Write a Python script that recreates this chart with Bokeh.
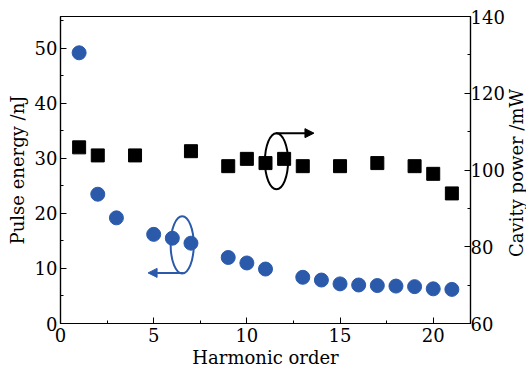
from bokeh.plotting import figure
from bokeh.models import Range1d, LinearAxis, Arrow, NormalHead, FixedTicker, Div
from bokeh.layouts import row
from bokeh.embed import file_html
from bokeh.resources import INLINE

# Pulse energy (left axis, nJ)
harm_e = [1, 2, 3, 5, 6, 7, 9, 10, 11, 13, 14, 15, 16, 17, 18, 19, 20, 21]
energy = [49.2, 23.5, 19.2, 16.2, 15.5, 14.6, 12.0, 11.0, 9.9, 8.4, 7.9, 7.2, 7.0, 6.9, 6.8, 6.7, 6.3, 6.2]

# Cavity power (right axis, mW)
harm_p = [1, 2, 4, 7, 9, 10, 11, 12, 13, 15, 17, 19, 20, 21]
power = [105.9, 103.8, 103.8, 104.9, 101.0, 102.9, 101.8, 102.9, 101.0, 101.0, 101.8, 101.0, 99.0, 93.9]

x_ticks = [0, 5, 10, 15, 20]
left_ticks = [0, 10, 20, 30, 40, 50]
right_ticks = [60, 80, 100, 120, 140]

FONT = "DejaVu Serif"
BLUE = "#2b5aab"

p = figure(width=507, height=379, output_backend="svg", toolbar_location=None,
           x_range=Range1d(0, 22), y_range=Range1d(0, 55.8),
           min_border_left=60, min_border_right=37, min_border_top=16, min_border_bottom=56)
p.extra_y_ranges = {"power": Range1d(60, 140)}
p.grid.visible = False
p.outline_line_color = "black"
p.outline_line_width = 1.2
p.background_fill_color = "white"
p.border_fill_color = "white"

def style_axis(ax, ticks, minor):
    ax.ticker = FixedTicker(ticks=ticks, minor_ticks=minor)
    ax.major_tick_in = 6
    ax.major_tick_out = 0
    ax.minor_tick_in = 3
    ax.minor_tick_out = 0
    ax.axis_line_width = 1.2
    ax.major_label_text_font = FONT
    ax.major_label_text_font_size = "18px"
    ax.major_label_text_color = "black"
    ax.axis_label_text_font = FONT
    ax.axis_label_text_font_size = "18px"
    ax.axis_label_text_font_style = "normal"
    ax.axis_label_text_color = "black"

style_axis(p.xaxis[0], x_ticks, [2.5 + 5 * i for i in range(5)])
p.xaxis[0].axis_label = "Harmonic order"
p.xaxis[0].major_label_standoff = 4
p.xaxis[0].axis_label_standoff = 2

style_axis(p.yaxis[0], left_ticks, [5 + 10 * i for i in range(6)])
p.yaxis[0].axis_label = "Pulse energy /nJ"
p.yaxis[0].major_label_standoff = 3
p.yaxis[0].axis_label_standoff = 4

right = LinearAxis(y_range_name="power")
style_axis(right, right_ticks, [70 + 20 * i for i in range(4)])
right.major_label_standoff = 0
p.add_layout(right, "right")

p.scatter(harm_e, energy, size=14, marker="circle", fill_color=BLUE, line_color=BLUE)
p.scatter(harm_p, power, size=13, marker="square", fill_color="black", line_color="black",
          y_range_name="power")

# annotations: ellipses with arrows pointing to the relevant axis
blue_ell = dict(x=6.53, y=14.3, w=1.24, h=10.4)
black_ell = dict(x=11.59, y=29.5, w=1.24, h=10.2)
p.ellipse(x=[blue_ell["x"]], y=[blue_ell["y"]], width=blue_ell["w"], height=blue_ell["h"],
          fill_color=None, line_color=BLUE, line_width=2)
p.ellipse(x=[black_ell["x"]], y=[black_ell["y"]], width=black_ell["w"], height=black_ell["h"],
          fill_color=None, line_color="black", line_width=2)

p.add_layout(Arrow(x_start=6.6, y_start=9.2, x_end=4.7, y_end=9.2, line_color=BLUE, line_width=2,
                   end=NormalHead(size=9, fill_color=BLUE, line_color=BLUE)))
p.add_layout(Arrow(x_start=11.55, y_start=34.6, x_end=13.6, y_end=34.6, line_color="black", line_width=2,
                   end=NormalHead(size=9, fill_color="black", line_color="black")))

# right-hand axis title, reading upward
right_title = Div(
    text=("<div style=\"width:19px;height:379px;display:flex;align-items:center;"
          "justify-content:center;padding-bottom:33px;box-sizing:border-box;background:white;\">"
          "<span style=\"writing-mode:vertical-rl;transform:rotate(180deg);white-space:nowrap;"
          "font-family:'DejaVu Serif';font-size:18px;color:black;line-height:1;\">"
          "Cavity power /mW</span></div>"),
    width=19, height=379, margin=0)

layout = row(p, right_title, spacing=0)
open("out.html", "w").write(file_html(layout, INLINE))
